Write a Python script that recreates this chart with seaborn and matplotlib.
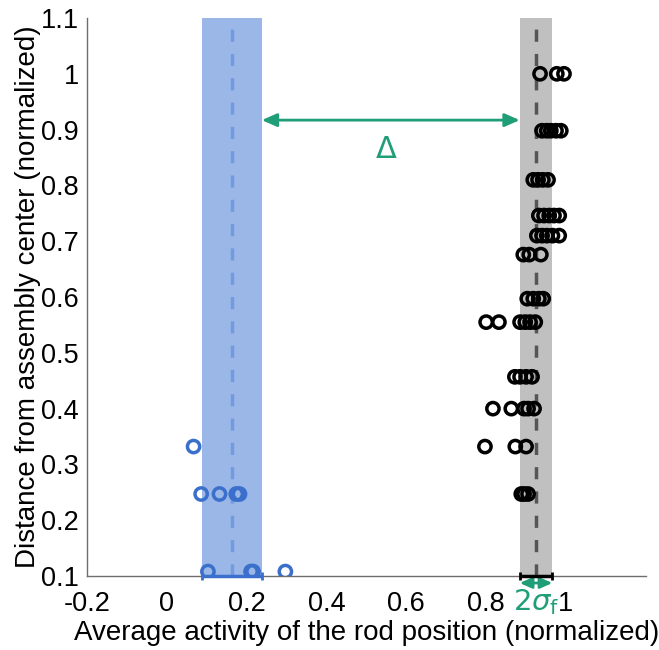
import numpy as np
import pandas as pd
import matplotlib
matplotlib.use("Agg")
import matplotlib.pyplot as plt
import seaborn as sns

# ---- data ----
blue_x = [0.067, 0.086, 0.132, 0.174, 0.182, 0.103, 0.211, 0.216, 0.297]
blue_y = [0.332, 0.247, 0.247, 0.247, 0.247, 0.108, 0.108, 0.108, 0.108]

black_x = [0.935, 0.977, 0.995,
           0.94, 0.952, 0.962, 0.975, 0.987,
           0.918, 0.93, 0.942, 0.955,
           0.932, 0.945, 0.958, 0.97, 0.983,
           0.927, 0.94, 0.952, 0.966, 0.983,
           0.893, 0.908, 0.937,
           0.903, 0.918, 0.932, 0.943,
           0.80, 0.832, 0.885, 0.898, 0.91, 0.923,
           0.872, 0.885, 0.90, 0.915,
           0.817, 0.863, 0.895, 0.905, 0.92,
           0.797, 0.873, 0.90,
           0.888, 0.895, 0.905]
black_y = [1.0] * 3 + [0.898] * 5 + [0.81] * 4 + [0.746] * 5 + [0.71] * 5 + \
          [0.676] * 3 + [0.597] * 4 + [0.555] * 6 + [0.457] * 4 + [0.40] * 5 + \
          [0.332] * 3 + [0.247] * 3

blue_mean, blue_sigma = 0.163, 0.075
black_mean, black_sigma = 0.925, 0.041

xticks = [-0.2, 0, 0.2, 0.4, 0.6, 0.8, 1]
xticklabels = ["-0.2", "0", "0.2", "0.4", "0.6", "0.8", "1"]
yticks = [0.1, 0.2, 0.3, 0.4, 0.5, 0.6, 0.7, 0.8, 0.9, 1.0, 1.1]
yticklabels = ["0.1", "0.2", "0.3", "0.4", "0.5", "0.6", "0.7", "0.8", "0.9", "1", "1.1"]

xlabel = "Average activity of the rod position (normalized)"
ylabel = "Distance from assembly center (normalized)"

# ---- style ----
sns.set_theme(style="white")
plt.rcParams["font.family"] = ["Liberation Sans", "DejaVu Sans"]
plt.rcParams["mathtext.fontset"] = "dejavusans"

green = "#1f9e78"
blue_pt = "#3a6fcc"
blue_band = "#9bb7e7"
blue_dash = "#729ae0"
gray_band = "#c0c0c0"
gray_dash = "#555555"
axis_col = "#6e6e6e"

fig = plt.figure(figsize=(6.59, 6.5), dpi=100)
ax = fig.add_axes([0.132, 0.1138, 0.848, 0.8585])

# bands
ax.axvspan(blue_mean - blue_sigma, blue_mean + blue_sigma, color=blue_band, lw=0, zorder=0)
ax.axvspan(black_mean - black_sigma, black_mean + black_sigma, color=gray_band, lw=0, zorder=0)
ax.axvline(blue_mean, color=blue_dash, lw=2.5, linestyle=(0, (3.5, 3.5)), zorder=1)
ax.axvline(black_mean, color=gray_dash, lw=2.5, linestyle=(0, (3.5, 3.5)), zorder=1)

# points
df_blue = pd.DataFrame({"x": blue_x, "y": blue_y})
df_black = pd.DataFrame({"x": black_x, "y": black_y})
sns.scatterplot(data=df_blue, x="x", y="y", ax=ax, marker="o", s=78,
                facecolor="none", edgecolor=blue_pt, linewidth=2.5, zorder=3)
sns.scatterplot(data=df_black, x="x", y="y", ax=ax, marker="o", s=78,
                facecolor="none", edgecolor="black", linewidth=2.5, zorder=3)

# error bars at bottom
ax.errorbar([blue_mean], [0.1], xerr=[blue_sigma], color=blue_pt, lw=2.5,
            capsize=3, capthick=2, fmt="none", clip_on=False, zorder=4)
ax.errorbar([black_mean], [0.1], xerr=[black_sigma], color="black", lw=2.5,
            capsize=3, capthick=2, fmt="none", clip_on=False, zorder=4)

# Delta arrow
ax.annotate("", xy=(blue_mean + blue_sigma, 0.917), xytext=(black_mean - black_sigma, 0.917),
            arrowprops=dict(arrowstyle="<|-|>,head_length=0.5,head_width=0.22",
                            color=green, lw=2, shrinkA=0, shrinkB=0, mutation_scale=18))
ax.text(0.55, 0.864, r"$\Delta$", color=green, fontsize=22, ha="center", va="center")

# 2 sigma arrow below axis
ax.annotate("", xy=(black_mean - black_sigma, 0.0875), xytext=(black_mean + black_sigma, 0.0875),
            arrowprops=dict(arrowstyle="<|-|>,head_length=0.45,head_width=0.2",
                            color=green, lw=2, shrinkA=0, shrinkB=0, mutation_scale=16),
            annotation_clip=False)
ax.text(black_mean, 0.0805, r"$2\sigma_{\mathrm{f}}$", color=green, fontsize=21,
        ha="center", va="top", clip_on=False)

# axes
ax.set_xlim(-0.2, 1.2)
ax.set_ylim(0.1, 1.1)
ax.set_xticks(xticks)
ax.set_xticklabels(xticklabels)
ax.set_yticks(yticks)
ax.set_yticklabels(yticklabels)
ax.tick_params(direction="in", length=5, width=1, color=axis_col, labelsize=19.5,
               labelcolor="black")
ax.tick_params(axis="x", pad=11)
ax.tick_params(axis="y", pad=6)
for s in ["top", "right"]:
    ax.spines[s].set_visible(False)
for s in ["left", "bottom"]:
    ax.spines[s].set_color(axis_col)
    ax.spines[s].set_linewidth(1)
ax.set_xlabel(xlabel, fontsize=20, labelpad=2, color="black")
ax.set_ylabel(ylabel, fontsize=20, labelpad=0, color="black")
ax.grid(False)

fig.savefig("out.png", dpi=100)
